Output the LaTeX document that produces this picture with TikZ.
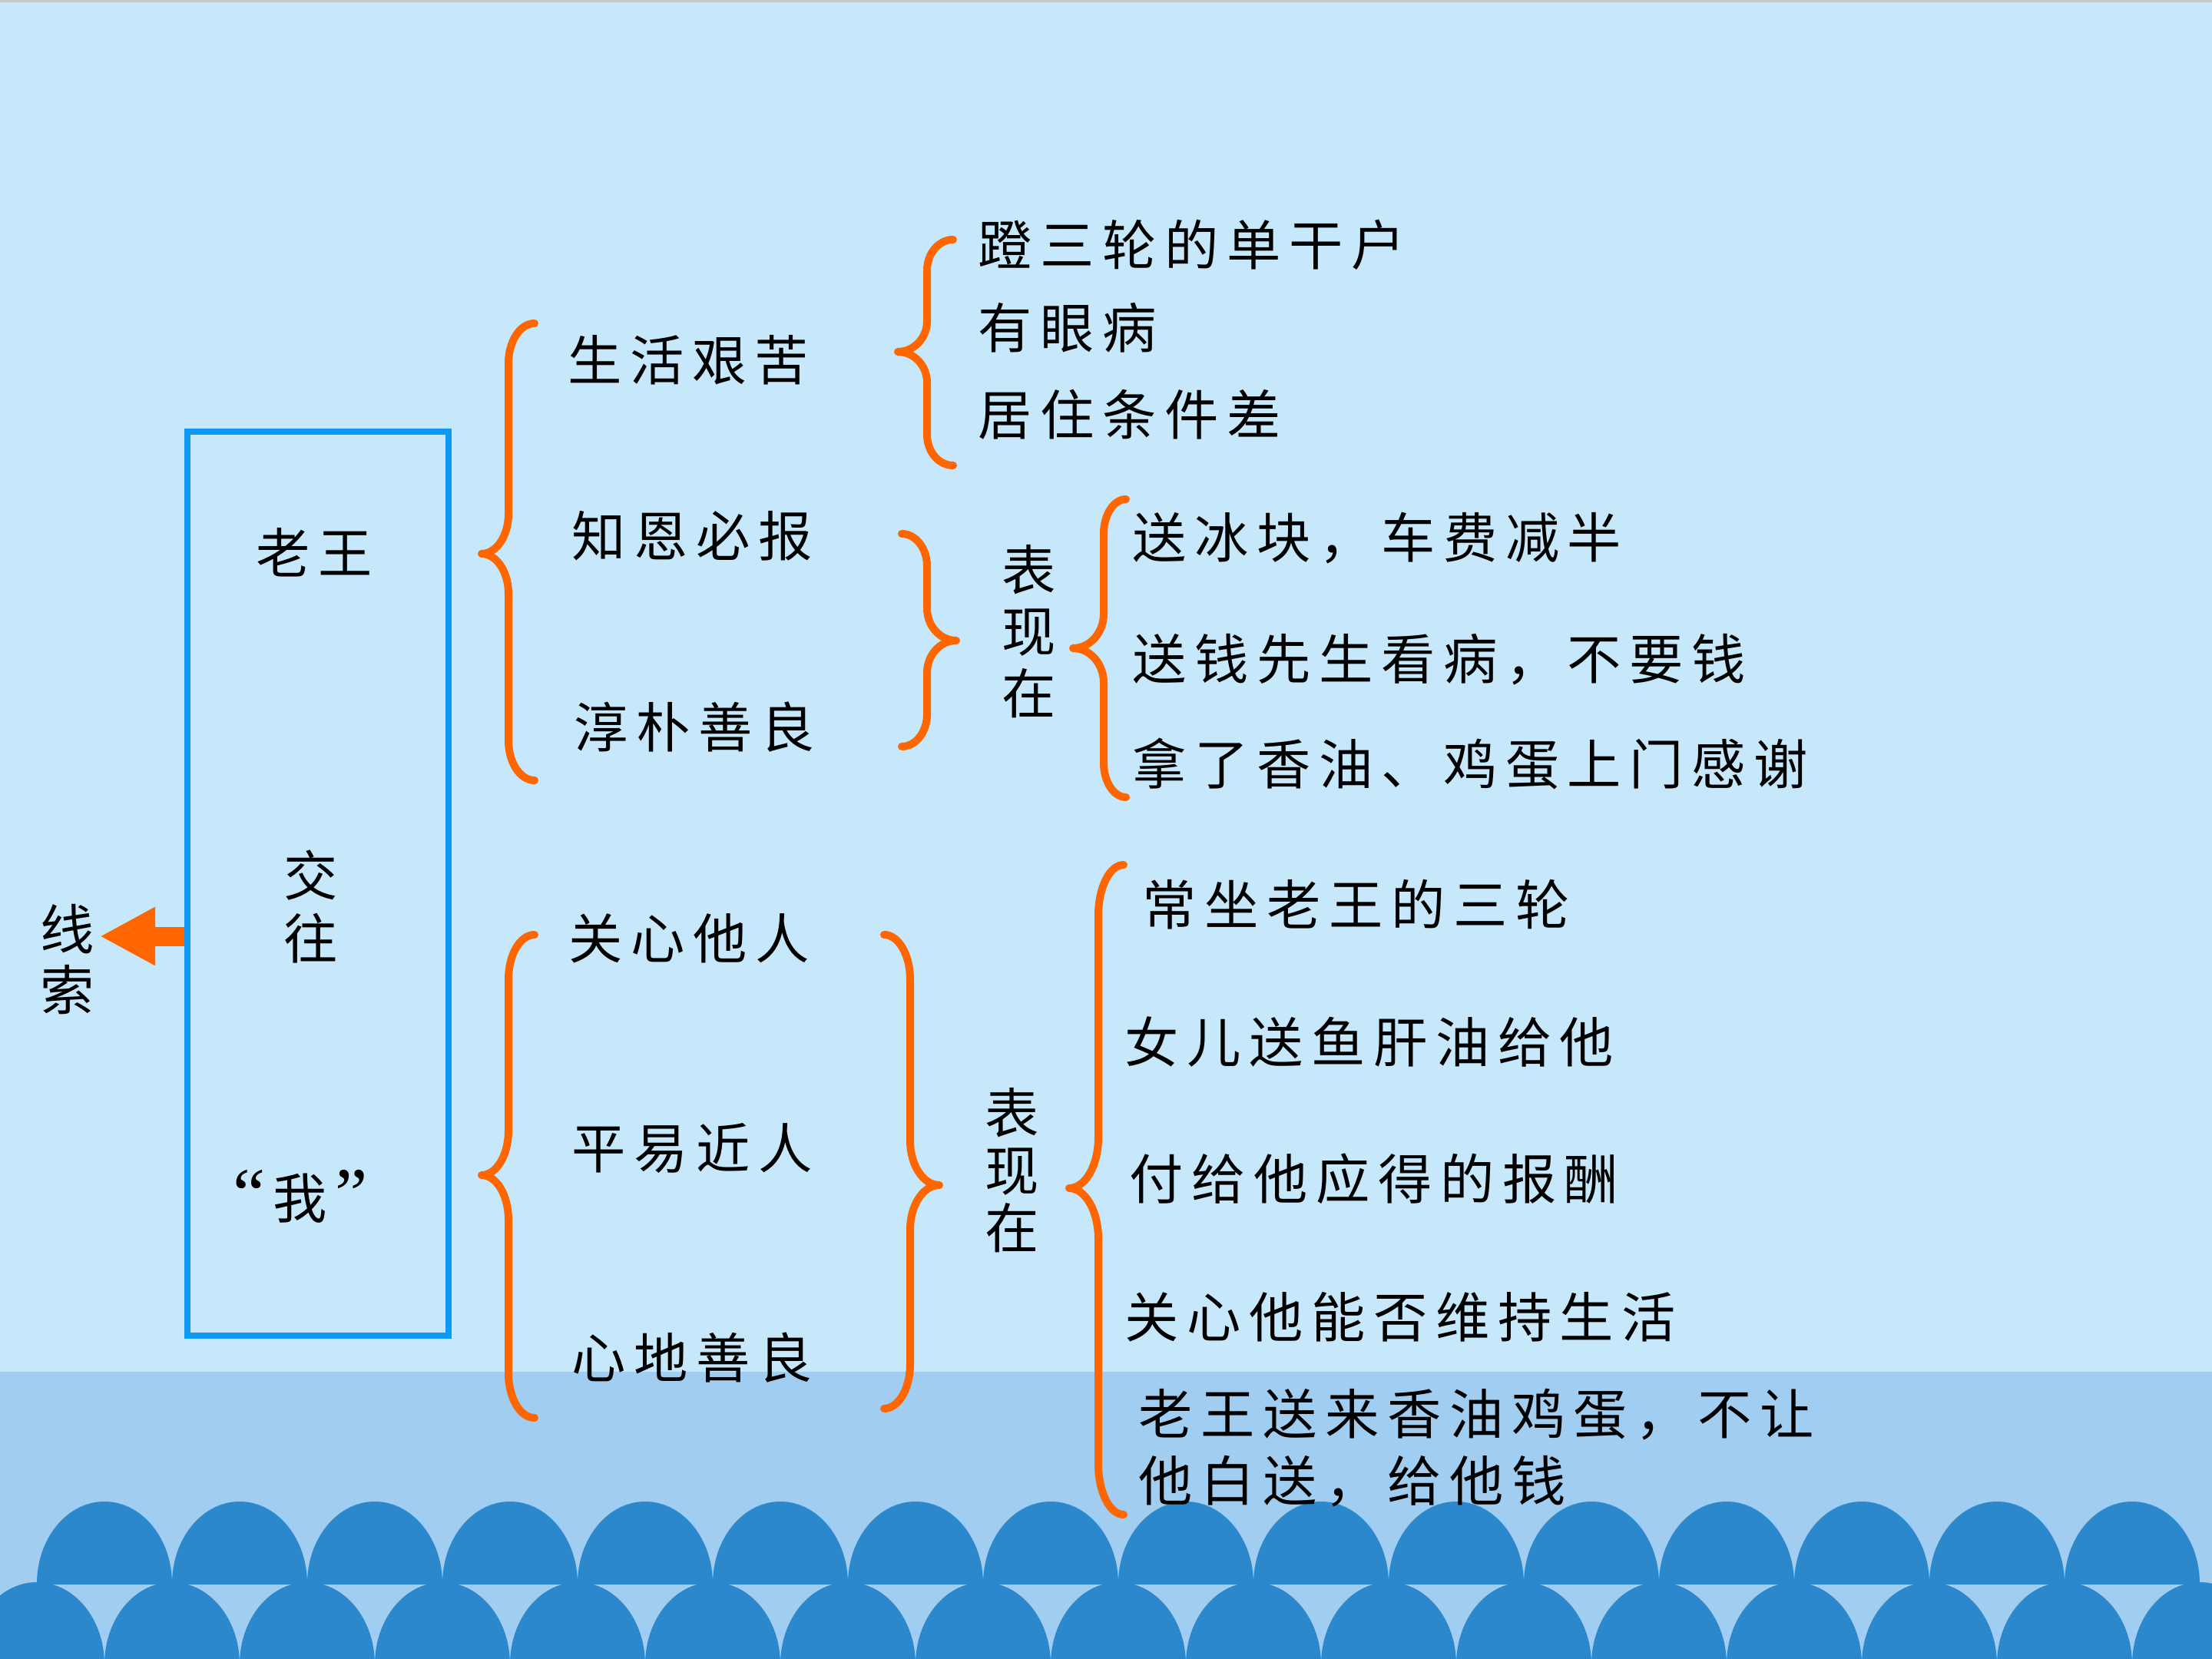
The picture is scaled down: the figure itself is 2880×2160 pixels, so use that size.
\documentclass[tikz,border=0pt]{standalone}
\usepackage{fontspec}
\newfontfamily\cjk{Noto Sans CJK SC}
\newfontfamily\qf{Liberation Serif}
\usetikzlibrary{arrows.meta}
\definecolor{bgtop}{HTML}{C6E8FA}
\definecolor{bgband}{HTML}{A0CDF0}
\definecolor{wave}{HTML}{2B88CD}
\definecolor{org}{HTML}{FF6600}
\definecolor{boxblue}{HTML}{0D9AF5}
\newlength\lsgap \setlength\lsgap{3.0pt}
\makeatletter
\def\ls#1{\ls@a#1\relax}
\def\ls@a#1{#1\futurelet\ls@n\ls@b}
\def\ls@b{\ifx\ls@n\relax\expandafter\@gobble\else\hskip\lsgap\relax\expandafter\ls@a\fi}
\makeatother
\newcommand\curly[7]{%
  \draw[brc] (#1,#4) .. controls ({#1-0.552*(#1-#2)},#4) and (#2,{#4+0.448*#7}) .. (#2,{#4+#7})
   -- (#2,{#5-#7}) .. controls (#2,{#5-0.448*#7}) and ({#3+0.552*(#2-#3)},#5) .. (#3,#5)
   .. controls ({#3+0.552*(#2-#3)},#5) and (#2,{#5+0.448*#7}) .. (#2,{#5+#7})
   -- (#2,{#6-#7}) .. controls (#2,{#6-0.448*#7}) and ({#1-0.552*(#1-#2)},#6) .. (#1,#6);}
\tikzset{
  brc/.style={draw=org, line width=0.1cm, line cap=round, line join=round},
  txt/.style={font=\cjk\fontsize{20}{24}\selectfont, inner sep=0pt, text height=17.6pt, text depth=2.4pt, anchor=west},
  ctxt/.style={font=\cjk\fontsize{20}{24}\selectfont, inner sep=0pt, text height=17.6pt, text depth=2.4pt, anchor=center},
  vtxt/.style={font=\cjk\fontsize{20}{#1}\selectfont, inner sep=0pt, align=center, anchor=center},
}
\begin{document}
\begin{tikzpicture}[x=0.01cm,y=-0.01cm]
\useasboundingbox (0,0) rectangle (2880,2160);
% background
\fill[bgtop] (0,0) rectangle (2880,2160);
\fill[bgband] (0,1786) rectangle (2880,2160);
\fill[black!22] (0,0) rectangle (2880,3);
\begin{scope}
  \clip (0,1900) rectangle (2880,2062);
  \foreach \k in {0,...,15} \fill[wave] ({136+176*\k},2062) ellipse [x radius=88, y radius=107];
\end{scope}
\begin{scope}
  \clip (0,2050) rectangle (2880,2160);
  \foreach \k in {-1,...,16} \fill[wave] ({48+176*\k},2167) ellipse [x radius=88, y radius=107];
\end{scope}
% left box
\node[draw=boxblue, line width=0.08cm, minimum width=3.4cm, minimum height=11.77cm, inner sep=0pt] (box) at (414,1150.5) {};
\node[ctxt] (laowang) at (409,720) {\ls{老王}};
\node[vtxt=23.3pt] (jiaowang) at (405,1180) {交\\往};
\node[ctxt] (wo) at (391,1560) {{\qf\fontsize{27}{27}\selectfont “}\hspace{3pt}我\hspace{3pt}{\qf\fontsize{27}{27}\selectfont ”}};
\node[vtxt=22.2pt] (xiansuo) at (88,1249) {线\\索};
\coordinate (tip) at (130,1219);
\draw[org, line width=0.25cm, -{Triangle[length=0.72cm,width=0.71cm]}] (box.west |- tip) -- (tip);
% braces
\curly{696}{662}{627}{421}{721}{1016}{52}
\curly{1241}{1207}{1169}{312}{458}{606}{40}
\curly{1174}{1207}{1245}{695}{834}{972}{42}
\curly{1466}{1437}{1397}{650}{844}{1038}{45}
\curly{696}{662}{627}{1217}{1530}{1846}{58}
\curly{1151}{1185}{1223}{1217}{1543}{1834}{58}
\curly{1463}{1430}{1392}{1126}{1547}{1972}{66}
% upper texts
\node[txt] (shenghuo) at (739,469) {\ls{生活艰苦}};
\node[txt] (zhien) at (744,698) {\ls{知恩必报}};
\node[txt] (chunpu) at (747,947) {\ls{淳朴善良}};
\node[txt] (deng) at (1273,319) {\ls{蹬三轮的单干户}};
\node[txt] (yan) at (1273,427) {\ls{有眼病}};
\node[txt] (juzhu) at (1273,540) {\ls{居住条件差}};
\node[vtxt=22.8pt] (biao1) at (1340,822) {表\\现\\在};
\node[txt] (bing) at (1474,700) {\ls{送冰块，车费减半}};
\node[txt] (qian) at (1474,858) {\ls{送钱先生看病，不要钱}};
\node[txt] (xiang) at (1474,995) {\ls{拿了香油、鸡蛋上门感谢}};
% lower texts
\node[txt] (guanxin) at (740,1222) {\ls{关心他人}};
\node[txt] (pingyi) at (744,1495) {\ls{平易近人}};
\node[txt] (xindi) at (744,1768) {\ls{心地善良}};
\node[vtxt=21.3pt] (biao2) at (1318,1524) {表\\现\\在};
\node[txt] (changzuo) at (1487,1178) {\ls{常坐老王的三轮}};
\node[txt] (nver) at (1464,1357) {\ls{女儿送鱼肝油给他}};
\node[txt] (fugei) at (1470,1535) {\ls{付给他应得的报酬}};
\node[txt] (weichi) at (1464,1715) {\ls{关心他能否维持生活}};
\node[txt] (songlai) at (1482,1841) {\ls{老王送来香油鸡蛋，不让}};
\node[txt] (baisong) at (1482,1928) {\ls{他白送，给他钱}};
\end{tikzpicture}
\end{document}
